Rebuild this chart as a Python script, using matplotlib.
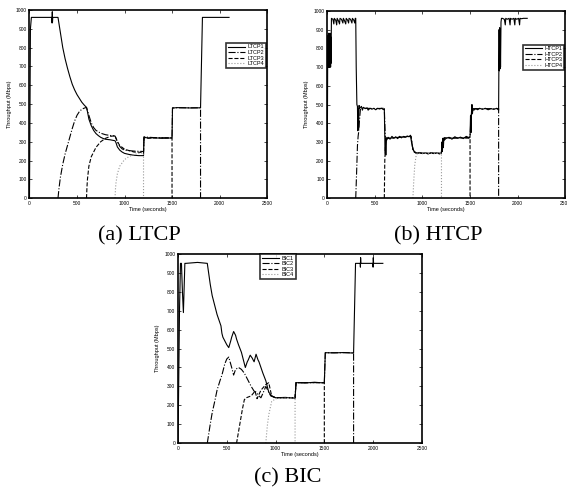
import matplotlib
matplotlib.use("Agg")
import matplotlib.pyplot as plt

plt.rcParams['font.family'] = 'Liberation Sans'

# ---- LTCP ----
ltcp1_t = [0, 10, 20, 235, 238, 240, 242, 245, 300, 325, 350, 375, 400, 425, 450, 475, 500, 525, 550, 575, 600,
           610, 625, 650, 675, 700, 725, 750, 775, 800, 850, 900, 910, 925, 950, 975, 1000, 1050, 1100, 1150, 1200,
           1205, 1250, 1300, 1400, 1500, 1505, 1550, 1700, 1800, 1820, 2100]
ltcp1_v = [0, 900, 960, 960, 930, 990, 935, 960, 960, 880, 800, 740, 690, 645, 605, 575, 550, 530, 510, 495, 482,
           460, 420, 385, 360, 343, 332, 323, 317, 313, 310, 305, 295, 272, 255, 245, 238, 232, 228, 226, 226,
           325, 318, 321, 318, 320, 478, 481, 479, 480, 960, 960]
ltcp2_t = [300, 310, 325, 350, 375, 400, 425, 450, 475, 500, 525, 550, 575, 600, 625, 650, 675, 700, 750, 800, 850,
           900, 925, 950, 975, 1000, 1100, 1200, 1205, 1300, 1500, 1505, 1800, 1800]
ltcp2_v = [0, 50, 110, 180, 235, 280, 325, 370, 410, 440, 460, 472, 478, 482, 440, 400, 375, 360, 345, 337, 333,
           330, 300, 275, 262, 255, 250, 248, 325, 322, 320, 480, 480, 0]
ltcp3_t = [600, 605, 610, 625, 650, 700, 750, 800, 850, 900, 925, 950, 1000, 1100, 1200, 1205, 1500, 1500]
ltcp3_v = [0, 60, 100, 170, 220, 270, 300, 318, 328, 332, 300, 280, 260, 245, 243, 320, 320, 0]
ltcp4_t = [900, 905, 910, 925, 950, 1000, 1050, 1100, 1150, 1200, 1200]
ltcp4_v = [0, 50, 80, 130, 170, 205, 222, 232, 238, 240, 0]

# ---- HTCP ----
htcp1_t = [0, 5, 10, 12, 14, 16, 18, 20, 22, 24, 26, 28, 30, 32, 34, 36, 38, 40, 45, 60, 70, 75, 90, 100, 105,
           120, 130, 135, 150, 165, 170, 180, 195, 200, 215, 225, 230, 245, 260, 265, 280, 290, 295, 300, 305,
           312, 318, 322, 326, 330, 335, 340, 360, 370, 380, 400, 420, 430, 450, 470, 490, 510, 530, 550, 570,
           590, 600, 605, 610, 613, 616, 620, 625, 640, 660, 680, 700, 720, 740, 760, 780, 800, 820, 840, 860,
           875, 885, 900, 915, 930, 950, 970, 1000, 1030, 1060, 1090, 1120, 1150, 1180, 1195, 1200, 1205, 1210,
           1215, 1220, 1225, 1230, 1250, 1280, 1310, 1340, 1370, 1400, 1430, 1460, 1490, 1500, 1505, 1510, 1515,
           1520, 1525, 1530, 1540, 1560, 1580, 1600, 1630, 1660, 1690, 1720, 1750, 1780, 1800, 1805, 1808, 1811,
           1814, 1817, 1820, 1825, 1830, 1840, 1860, 1870, 1875, 1890, 1910, 1920, 1925, 1940, 1960, 1970, 1975,
           1990, 2010, 2020, 2025, 2040, 2060, 2080, 2100]
htcp1_v = [0, 690, 870, 700, 880, 700, 880, 700, 870, 700, 880, 700, 870, 720, 880, 700, 860, 720, 960, 955, 930,
           960, 950, 925, 960, 945, 930, 960, 955, 935, 960, 950, 930, 960, 950, 935, 960, 955, 935, 960, 950,
           935, 960, 960, 700, 500, 490, 360, 480, 370, 495, 480, 490, 470, 485, 478, 482, 470, 480, 475, 480,
           472, 480, 476, 480, 473, 478, 330, 240, 320, 230, 320, 310, 325, 315, 330, 320, 328, 318, 330, 322,
           330, 325, 332, 328, 336, 300, 265, 245, 242, 240, 244, 238, 242, 236, 243, 238, 242, 236, 240, 250,
           300, 250, 320, 270, 320, 310, 320, 325, 315, 328, 320, 326, 318, 330, 322, 330, 440, 350, 460, 500,
           450, 475, 470, 478, 472, 480, 474, 480, 472, 478, 474, 480, 470, 900, 680, 910, 690, 900, 700, 940,
           960, 960, 955, 925, 960, 955, 960, 925, 960, 955, 960, 925, 960, 955, 960, 925, 960, 958, 960, 960, 960]
htcp2_t = [300, 310, 318, 325, 330, 340, 350, 400, 500, 600, 610, 620, 700, 800, 880, 900, 930, 1000, 1100, 1200,
           1210, 1230, 1300, 1400, 1500, 1510, 1530, 1600, 1700, 1800, 1800]
htcp2_v = [0, 150, 280, 330, 350, 420, 480, 480, 478, 480, 330, 320, 322, 328, 330, 260, 242, 240, 240, 240,
           300, 322, 320, 322, 325, 440, 478, 478, 478, 478, 0]
htcp3_t = [600, 605, 612, 620, 700, 800, 880, 900, 930, 1000, 1200, 1210, 1230, 1400, 1500, 1500]
htcp3_v = [0, 200, 280, 320, 322, 326, 330, 260, 242, 240, 240, 300, 322, 322, 320, 0]
htcp4_t = [900, 910, 920, 935, 950, 1000, 1200, 1200]
htcp4_v = [0, 100, 180, 230, 240, 240, 240, 0]

# ---- BIC ----
bic1_t = [0, 15, 25, 35, 45, 55, 70, 80, 200, 300, 330, 350, 380, 400, 420, 440, 450, 460, 480, 500, 520, 540,
          550, 570, 590, 600, 620, 650, 670, 690, 710, 720, 740, 760, 780, 800, 820, 830, 850, 870, 900, 930, 960,
          1000, 1100, 1200, 1210, 1300, 1400, 1500, 1510, 1600, 1700, 1800, 1820, 1868, 1870, 1872, 1875,
          1998, 2000, 2002, 2005, 2100]
bic1_v = [0, 700, 950, 950, 800, 690, 950, 950, 955, 950, 840, 780, 720, 680, 650, 620, 580, 560, 540, 520, 505,
          540, 560, 590, 570, 550, 520, 480, 440, 400, 430, 440, 465, 450, 430, 470, 440, 430, 400, 370, 330, 270,
          250, 240, 242, 238, 320, 318, 322, 318, 478, 477, 479, 476, 950, 950, 930, 980, 950,
          950, 930, 980, 950, 950]
bic2_t = [300, 330, 350, 380, 400, 430, 450, 480, 500, 520, 550, 570, 590, 620, 650, 680, 700, 730, 750, 780, 800,
          830, 850, 880, 900, 930, 950, 1000, 1100, 1200, 1210, 1300, 1500, 1510, 1800, 1800]
bic2_v = [0, 100, 160, 230, 280, 330, 360, 420, 445, 455, 400, 360, 390, 400, 390, 370, 350, 320, 300, 275, 270,
          250, 240, 275, 300, 270, 250, 240, 240, 240, 320, 320, 320, 478, 478, 0]
bic3_t = [600, 620, 640, 660, 680, 700, 750, 790, 810, 850, 900, 930, 960, 1000, 1200, 1210, 1500, 1500]
bic3_v = [0, 60, 120, 180, 230, 240, 250, 275, 235, 280, 310, 320, 250, 240, 240, 320, 320, 0]
bic4_t = [900, 915, 930, 960, 1000, 1100, 1200, 1200]
bic4_v = [0, 90, 150, 220, 235, 238, 240, 0]

styles = ['-', '-.', '--', ':']
colors = ['black', 'black', 'black', '0.6']

fig = plt.figure(figsize=(5.67, 4.93), dpi=100)


def panel(rect, series, names, legend_anchor, legend_loc):
    ax = fig.add_axes(rect)
    for (t, v), ls, c, nm in zip(series, styles, colors, names):
        ax.plot(t, v, linestyle=ls, color=c, linewidth=0.8, label=nm)
    ax.set_xlim(0, 2500)
    ax.set_ylim(0, 1000)
    ax.set_xticks(range(0, 2501, 500))
    ax.set_yticks(range(0, 1001, 100))
    ax.tick_params(direction='in', length=2, width=0.5, labelsize=3.5, pad=2,
                   top=True, right=True)
    for s in ax.spines.values():
        s.set_linewidth(1.2)
    ax.set_xlabel('Time (seconds)', fontsize=4, labelpad=1)
    ax.set_ylabel('Throughput (Mbps)', fontsize=4, labelpad=3)
    leg = ax.legend(loc=legend_loc, bbox_to_anchor=legend_anchor, fontsize=4, frameon=True,
                    fancybox=False, handlelength=3, borderpad=0.3, labelspacing=0.1,
                    handletextpad=0.5, borderaxespad=0)
    leg.get_frame().set_edgecolor('black')
    leg.get_frame().set_linewidth(1.2)
    return ax


panel([0.052, 0.598, 0.419, 0.382],
      [(ltcp1_t, ltcp1_v), (ltcp2_t, ltcp2_v), (ltcp3_t, ltcp3_v), (ltcp4_t, ltcp4_v)],
      ['LTCP1', 'LTCP2', 'LTCP3', 'LTCP4'], (0.995, 0.825), 'upper right')
panel([0.577, 0.598, 0.420, 0.380],
      [(htcp1_t, htcp1_v), (htcp2_t, htcp2_v), (htcp3_t, htcp3_v), (htcp4_t, htcp4_v)],
      ['HTCP1', 'HTCP2', 'HTCP3', 'HTCP4'], (0.995, 0.82), 'upper right')
panel([0.314, 0.101, 0.430, 0.384],
      [(bic1_t, bic1_v), (bic2_t, bic2_v), (bic3_t, bic3_v), (bic4_t, bic4_v)],
      ['BIC1', 'BIC2', 'BIC3', 'BIC4'], (0.41, 1.0), 'upper center')

cap = dict(fontsize=16, family='Liberation Serif', ha='center', va='center')
fig.text(139 / 567, 1 - 236 / 493, '(a) LTCP', **cap)
fig.text(438 / 567, 1 - 236 / 493, '(b) HTCP', **cap)
fig.text(288 / 567, 1 - 478 / 493, '(c) BIC', **cap)

fig.savefig('out.png', dpi=100)
